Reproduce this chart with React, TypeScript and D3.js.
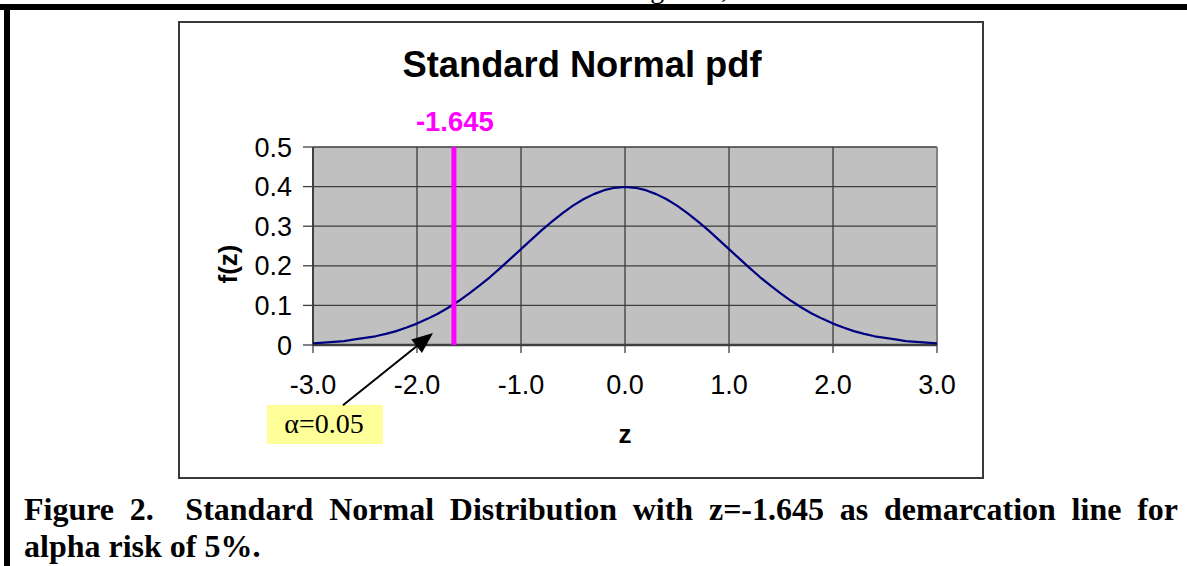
import React, { useMemo } from 'react';
import * as d3 from 'd3';

// Standard normal density, sampled every 0.1 from -3 to 3
const zValues = [
  -3.0, -2.9, -2.8, -2.7, -2.6, -2.5, -2.4, -2.3, -2.2, -2.1,
  -2.0, -1.9, -1.8, -1.7, -1.6, -1.5, -1.4, -1.3, -1.2, -1.1,
  -1.0, -0.9, -0.8, -0.7, -0.6, -0.5, -0.4, -0.3, -0.2, -0.1,
  0.0, 0.1, 0.2, 0.3, 0.4, 0.5, 0.6, 0.7, 0.8, 0.9,
  1.0, 1.1, 1.2, 1.3, 1.4, 1.5, 1.6, 1.7, 1.8, 1.9,
  2.0, 2.1, 2.2, 2.3, 2.4, 2.5, 2.6, 2.7, 2.8, 2.9, 3.0,
];
const fzValues = [
  0.004, 0.006, 0.008, 0.010, 0.014, 0.018, 0.022, 0.028, 0.035, 0.044,
  0.054, 0.066, 0.079, 0.094, 0.111, 0.130, 0.150, 0.171, 0.194, 0.218,
  0.242, 0.266, 0.290, 0.312, 0.333, 0.352, 0.368, 0.381, 0.391, 0.397,
  0.399, 0.397, 0.391, 0.381, 0.368, 0.352, 0.333, 0.312, 0.290, 0.266,
  0.242, 0.218, 0.194, 0.171, 0.150, 0.130, 0.111, 0.094, 0.079, 0.066,
  0.054, 0.044, 0.035, 0.028, 0.022, 0.018, 0.014, 0.010, 0.008, 0.006, 0.004,
];

const xTicks = [-3, -2, -1, 0, 1, 2, 3];
const xTickLabels = ['-3.0', '-2.0', '-1.0', '0.0', '1.0', '2.0', '3.0'];
const yTicks = [0, 0.1, 0.2, 0.3, 0.4, 0.5];
const yTickLabels = ['0', '0.1', '0.2', '0.3', '0.4', '0.5'];

const criticalZ = -1.645;
const criticalLabel = '-1.645';
const alphaLabel = 'α=0.05';
// arrow from the alpha note to the tail area, in data units
const arrowTail = { z: -2.712, f: -0.152 };
const arrowTip = { z: -1.846, f: 0.03 };

const chartTitle = 'Standard Normal pdf';
const xTitle = 'z';
const yTitle = 'f(z)';

const captionWords = ['Figure', '2.', 'Standard', 'Normal', 'Distribution', 'with', 'z=-1.645', 'as', 'demarcation', 'line', 'for'];
const captionGapWeights = [1, 2, 1, 1, 1, 1, 1, 1, 1, 1];
const captionLine2 = 'alpha risk of 5%.';
const bodyFragment = 'Figure 2,';

const W = 1187;
const H = 566;
const plot = { left: 313, right: 937, top: 147, bottom: 345 };
const sans = '"Liberation Sans", Arial, sans-serif';
const serif = '"Liberation Serif", "Times New Roman", serif';
const captionSize = 32;
const captionLeft = 24;
const captionRight = 1178;

export default function App() {
  const x = d3.scaleLinear().domain([-3, 3]).range([plot.left, plot.right]);
  const y = d3.scaleLinear().domain([0, 0.5]).range([plot.bottom, plot.top]);

  const curve = d3
    .line<number>()
    .x((_, i) => x(zValues[i]))
    .y((d) => y(d))(fzValues) as string;

  // justified first caption line: spread the leftover width over the word gaps
  const captionX = useMemo(() => {
    const ctx = document.createElement('canvas').getContext('2d');
    if (!ctx) return captionWords.map((_, i) => captionLeft + i * 100);
    ctx.font = `bold ${captionSize}px "Liberation Serif"`;
    const widths = captionWords.map((w) => ctx.measureText(w).width);
    const total = widths.reduce((a, b) => a + b, 0);
    const weightSum = captionGapWeights.reduce((a, b) => a + b, 0);
    const unit = (captionRight - captionLeft - total) / weightSum;
    let pos = captionLeft;
    return captionWords.map((_, i) => {
      const p = pos;
      pos += widths[i] + (captionGapWeights[i] || 0) * unit;
      return p;
    });
  }, []);

  // arrow geometry
  const tx = x(arrowTip.z);
  const ty = y(arrowTip.f);
  const sx = x(arrowTail.z);
  const sy = y(arrowTail.f);
  const len = Math.hypot(tx - sx, ty - sy);
  const ux = (tx - sx) / len;
  const uy = (ty - sy) / len;
  const headLen = 21;
  const headHalf = 8.5;
  const bx = tx - headLen * ux;
  const by = ty - headLen * uy;
  const head = [
    [tx, ty],
    [bx - headHalf * uy, by + headHalf * ux],
    [bx + headHalf * uy, by - headHalf * ux],
  ]
    .map((p) => p.join(','))
    .join(' ');

  const gridColor = '#3c3c3c';

  return (
    <svg
      width={W}
      height={H}
      style={{ position: 'absolute', left: 0, top: 0, background: '#fff' }}
    >
      {/* page frame */}
      <text x={627} y={-2} fontFamily={serif} fontSize={28} fill="#000">
        {bodyFragment}
      </text>
      <rect x={0} y={4} width={W} height={6} fill="#000" />
      <rect x={4} y={4} width={6} height={H} fill="#000" />

      {/* chart frame */}
      <rect x={179} y={22} width={804} height={456} fill="#fff" stroke="#3a3a3a" strokeWidth={2} />

      <text x={582} y={77} textAnchor="middle" fontFamily={sans} fontWeight="bold" fontSize={36.3}>
        {chartTitle}
      </text>

      {/* plot area */}
      <rect
        x={plot.left}
        y={plot.top}
        width={plot.right - plot.left}
        height={plot.bottom - plot.top}
        fill="#c0c0c0"
      />
      {yTicks.map((t) => (
        <line key={'gy' + t} x1={plot.left} x2={plot.right} y1={y(t)} y2={y(t)} stroke={gridColor} strokeWidth={1.3} />
      ))}
      {xTicks.slice(1, -1).map((t) => (
        <line key={'gx' + t} x1={x(t)} x2={x(t)} y1={plot.top} y2={plot.bottom} stroke={gridColor} strokeWidth={1.3} />
      ))}
      <line x1={plot.right} x2={plot.right} y1={plot.top} y2={plot.bottom} stroke="#808080" strokeWidth={2} />

      {/* axes */}
      <line x1={plot.left} x2={plot.left} y1={plot.top} y2={plot.bottom} stroke="#404040" strokeWidth={2} />
      <line x1={plot.left} x2={plot.right} y1={plot.bottom} y2={plot.bottom} stroke="#404040" strokeWidth={2.5} />
      {yTicks.map((t, i) => (
        <g key={'ty' + t}>
          <line x1={plot.left - 10} x2={plot.left} y1={y(t)} y2={y(t)} stroke="#404040" strokeWidth={1.3} />
          <text x={292} y={y(t) + 9.5} textAnchor="end" fontFamily={sans} fontSize={27}>
            {yTickLabels[i]}
          </text>
        </g>
      ))}
      {xTicks.map((t, i) => (
        <g key={'tx' + t}>
          <line x1={x(t)} x2={x(t)} y1={plot.bottom} y2={plot.bottom + 8} stroke="#404040" strokeWidth={1.3} />
          <text x={x(t)} y={394} textAnchor="middle" fontFamily={sans} fontSize={27}>
            {xTickLabels[i]}
          </text>
        </g>
      ))}

      <text x={625} y={443} textAnchor="middle" fontFamily={sans} fontWeight="bold" fontSize={26}>
        {xTitle}
      </text>
      <text
        transform={`translate(237,264) rotate(-90)`}
        textAnchor="middle"
        fontFamily={sans}
        fontWeight="bold"
        fontSize={26}
      >
        {yTitle}
      </text>

      {/* density curve */}
      <path d={curve} fill="none" stroke="#000080" strokeWidth={2.2} strokeLinejoin="round" />

      {/* critical value */}
      <line
        x1={x(criticalZ)}
        x2={x(criticalZ)}
        y1={plot.top}
        y2={plot.bottom}
        stroke="#ff00ff"
        strokeWidth={5}
      />
      <text
        x={x(criticalZ) + 1}
        y={131}
        textAnchor="middle"
        fontFamily={sans}
        fontWeight="bold"
        fontSize={27.5}
        fill="#ff00ff"
      >
        {criticalLabel}
      </text>

      {/* alpha note */}
      <rect x={267} y={405} width={116} height={39} fill="#ffff99" />
      <text x={324} y={433} textAnchor="middle" fontFamily={serif} fontSize={28}>
        {alphaLabel}
      </text>
      <line x1={sx} y1={sy} x2={bx + 2 * ux} y2={by + 2 * uy} stroke="#000" strokeWidth={2} />
      <polygon points={head} fill="#000" />

      {/* caption */}
      {captionWords.map((w, i) => (
        <text key={'c' + i} x={captionX[i]} y={520} fontFamily={serif} fontWeight="bold" fontSize={captionSize}>
          {w}
        </text>
      ))}
      <text x={captionLeft} y={557} fontFamily={serif} fontWeight="bold" fontSize={captionSize}>
        {captionLine2}
      </text>
    </svg>
  );
}
